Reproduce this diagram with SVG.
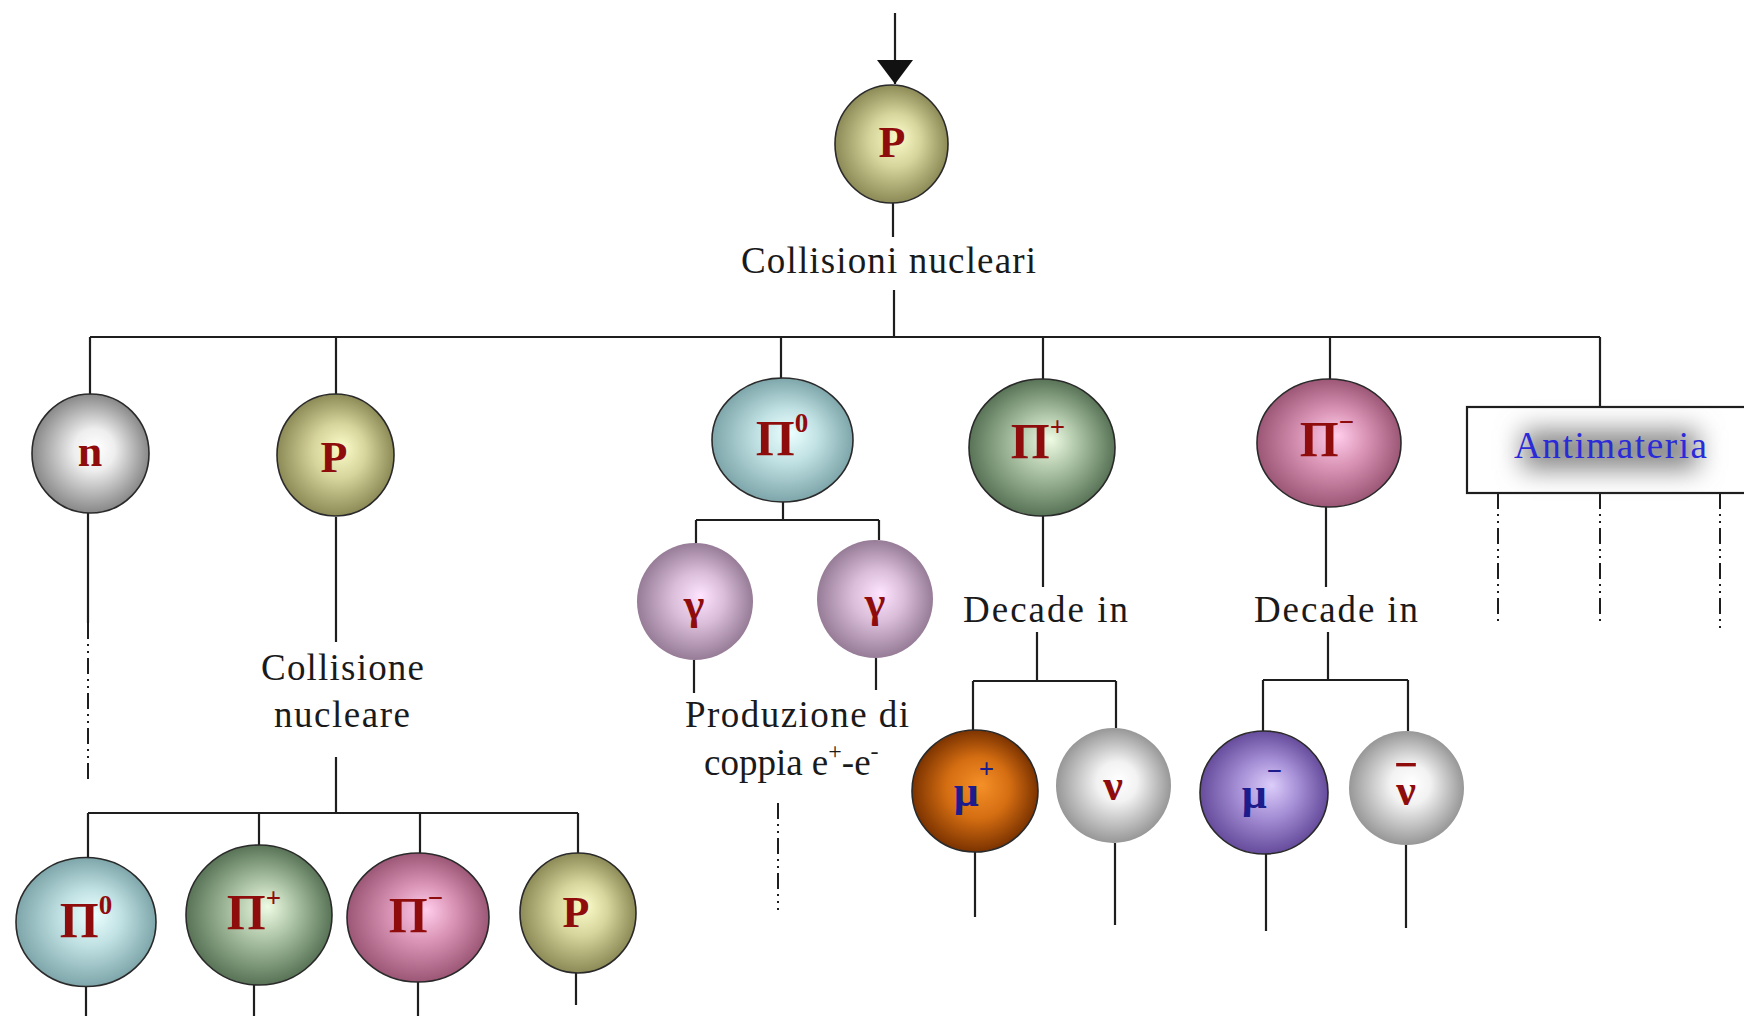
<svg xmlns="http://www.w3.org/2000/svg" width="1744" height="1016" viewBox="0 0 1744 1016">
<defs>
<style>
.ln{fill:none;stroke:#1e1e1e;stroke-width:2.2}
.dd{fill:none;stroke:#1e1e1e;stroke-width:2;stroke-dasharray:16 5 2 5 2 5}
.ball{stroke:#2a2a2a;stroke-width:1.6}
.soft{stroke:none}
.lbl{font-family:"Liberation Serif","Times New Roman",serif;font-weight:bold;font-size:44px;fill:#8f0c0c;text-anchor:middle}
.pi{font-size:50px}
.blue{fill:#1c1c8c}
.sup{font-size:27px}
.txt{font-family:"Liberation Serif","Times New Roman",serif;font-size:37px;fill:#1a1a1a}
</style>
<marker id="arr" viewBox="0 0 24 36" refX="24" refY="18" markerWidth="24" markerHeight="36" markerUnits="userSpaceOnUse" orient="auto">
<path d="M0 0 L24 18 L0 36 Z" fill="#111"/>
</marker>
<radialGradient id="gOlive" cx="0.5" cy="0.5" r="0.5" fx="0.56" fy="0.44"><stop offset="0" stop-color="#fcfcca"/><stop offset="0.45" stop-color="#d6d59c"/><stop offset="1" stop-color="#8c8a56"/></radialGradient>
<radialGradient id="gGray" cx="0.5" cy="0.5" r="0.5" fx="0.55" fy="0.45"><stop offset="0" stop-color="#ffffff"/><stop offset="0.35" stop-color="#eeeeee"/><stop offset="1" stop-color="#888888"/></radialGradient>
<radialGradient id="gCyan" cx="0.5" cy="0.5" r="0.5" fx="0.56" fy="0.44"><stop offset="0" stop-color="#ecffff"/><stop offset="0.45" stop-color="#bfe0e2"/><stop offset="1" stop-color="#7ea6aa"/></radialGradient>
<radialGradient id="gGreen" cx="0.5" cy="0.5" r="0.5" fx="0.56" fy="0.44"><stop offset="0" stop-color="#eefbe4"/><stop offset="0.45" stop-color="#a9c1a2"/><stop offset="1" stop-color="#587356"/></radialGradient>
<radialGradient id="gPink" cx="0.5" cy="0.5" r="0.5" fx="0.56" fy="0.44"><stop offset="0" stop-color="#ffcdeb"/><stop offset="0.45" stop-color="#da94b5"/><stop offset="1" stop-color="#9c5676"/></radialGradient>
<radialGradient id="gLav" cx="0.5" cy="0.5" r="0.5" fx="0.55" fy="0.45"><stop offset="0" stop-color="#ffe4ff"/><stop offset="0.45" stop-color="#d9bdd9"/><stop offset="1" stop-color="#977c97"/></radialGradient>
<radialGradient id="gOrange" cx="0.5" cy="0.5" r="0.5" fx="0.55" fy="0.45"><stop offset="0" stop-color="#f59028"/><stop offset="0.5" stop-color="#d56e12"/><stop offset="1" stop-color="#7c3300"/></radialGradient>
<radialGradient id="gPurple" cx="0.5" cy="0.5" r="0.5" fx="0.56" fy="0.44"><stop offset="0" stop-color="#dccdfa"/><stop offset="0.45" stop-color="#a892d8"/><stop offset="1" stop-color="#664c9c"/></radialGradient>
<radialGradient id="gNu" cx="0.5" cy="0.5" r="0.5" fx="0.55" fy="0.45"><stop offset="0" stop-color="#ffffff"/><stop offset="0.35" stop-color="#f2f2f2"/><stop offset="1" stop-color="#979797"/></radialGradient>
<filter id="glow" x="-30%" y="-80%" width="160%" height="260%"><feGaussianBlur stdDeviation="13"/></filter>
</defs>
<rect width="1744" height="1016" fill="#ffffff"/>

<g id="connectors">
<path class="ln" d="M895 13 V84" marker-end="url(#arr)"/>
<path class="ln" d="M893 203 V237 M894 290 V337 M90 337 H1600 M90 337 V394 M336 337 V394 M781 337 V378 M1043 337 V379 M1330 337 V379 M1600 337 V407"/>
<path class="ln" d="M88 513 V623"/>
<path class="dd" d="M88 623 V780"/>
<path class="ln" d="M336 517 V642 M336 757 V813 M88 813 H578 M88 813 V858 M259 813 V846 M420 813 V853 M578 813 V853"/>
<path class="ln" d="M86 987 V1016 M254 985 V1016 M418 982 V1016 M576 973 V1005"/>
<path class="ln" d="M783 502 V520 M696 520 H879 M696 520 V543 M879 520 V540 M694 660 V693 M876 658 V690"/>
<path class="dd" d="M778 803 V910"/>
<path class="ln" d="M1043 516 V587 M1037 632 V681 M973 681 H1116 M973 681 V730 M1116 681 V728 M975 852 V917 M1115 843 V925"/>
<path class="ln" d="M1326 507 V587 M1328 632 V680 M1263 680 H1408 M1263 680 V731 M1408 680 V731 M1266 854 V931 M1406 845 V928"/>
<path class="dd" d="M1498 493 V622 M1600 493 V622 M1720 493 V632"/>
</g>

<g id="label-collisioni">
<text class="txt" x="741" y="273" textLength="295">Collisioni nucleari</text>
</g>
<g id="label-collisione">
<text class="txt" x="261" y="680" textLength="163">Collisione</text>
<text class="txt" x="274" y="727" textLength="136">nucleare</text>
</g>
<g id="label-produzione">
<text class="txt" x="685" y="727" textLength="224">Produzione di</text>
<text class="txt" x="704" y="775">coppia e<tspan font-size="24" dy="-16">+</tspan><tspan dy="16">-e</tspan><tspan font-size="24" dy="-16">-</tspan></text>
</g>
<g id="label-decade1">
<text class="txt" x="963" y="622" textLength="165">Decade in</text>
</g>
<g id="label-decade2">
<text class="txt" x="1254" y="622" textLength="164">Decade in</text>
</g>

<g id="node-p-top">
<ellipse class="ball" cx="891.5" cy="144" rx="56.5" ry="59" fill="url(#gOlive)"/>
<text class="lbl" x="892" y="157">P</text>
</g>
<g id="node-n">
<ellipse class="ball" cx="90.5" cy="453.5" rx="58.5" ry="59.5" fill="url(#gGray)"/>
<text class="lbl" x="90" y="466">n</text>
</g>
<g id="node-p">
<ellipse class="ball" cx="335.5" cy="455" rx="58.5" ry="61" fill="url(#gOlive)"/>
<text class="lbl" x="334" y="472">P</text>
</g>
<g id="node-pi0">
<ellipse class="ball" cx="782.5" cy="440" rx="70.5" ry="62" fill="url(#gCyan)"/>
<text class="lbl pi" x="782" y="455">Π<tspan class="sup" dy="-23">0</tspan></text>
</g>
<g id="node-piplus">
<ellipse class="ball" cx="1042" cy="447.5" rx="73" ry="68.5" fill="url(#gGreen)"/>
<text class="lbl pi" x="1038" y="458">Π<tspan class="sup" dy="-22">+</tspan></text>
</g>
<g id="node-piminus">
<ellipse class="ball" cx="1329" cy="443" rx="72" ry="64" fill="url(#gPink)"/>
<text class="lbl pi" x="1327" y="456">Π<tspan class="sup" dy="-25">−</tspan></text>
</g>
<g id="node-antimateria">
<rect x="1467" y="407" width="290" height="86" fill="#ffffff" stroke="#1e1e1e" stroke-width="2.2"/>
<rect x="1522" y="430" width="176" height="40" fill="#8a8a8a" filter="url(#glow)"/>
<text x="1514" y="458" textLength="193" font-family="Liberation Serif, Times New Roman, serif" font-size="37" fill="#2a2ad8">Antimateria</text>
</g>
<g id="node-gamma1">
<ellipse class="soft" cx="695" cy="601.5" rx="58" ry="58.5" fill="url(#gLav)"/>
<text class="lbl" x="694" y="619" font-size="48">γ</text>
</g>
<g id="node-gamma2">
<ellipse class="soft" cx="875" cy="599" rx="58" ry="59" fill="url(#gLav)"/>
<text class="lbl" x="875" y="617" font-size="48">γ</text>
</g>
<g id="node-muplus">
<ellipse class="ball" cx="975" cy="791" rx="63" ry="61" fill="url(#gOrange)"/>
<text class="lbl blue" x="974" y="806">μ<tspan class="sup" dy="-28">+</tspan></text>
</g>
<g id="node-nu">
<ellipse class="soft" cx="1113.5" cy="785.5" rx="57.5" ry="57.5" fill="url(#gNu)"/>
<text class="lbl" x="1113" y="800">ν</text>
</g>
<g id="node-muminus">
<ellipse class="ball" cx="1264" cy="792.5" rx="64" ry="61.5" fill="url(#gPurple)"/>
<text class="lbl blue" x="1262" y="808">μ<tspan class="sup" dy="-28">−</tspan></text>
</g>
<g id="node-nubar">
<ellipse class="soft" cx="1406.5" cy="788" rx="57.5" ry="57" fill="url(#gNu)"/>
<text class="lbl" x="1406" y="805" text-decoration="overline">ν</text>
</g>
<g id="node-pi0-b">
<ellipse class="ball" cx="86" cy="922" rx="70" ry="64.5" fill="url(#gCyan)"/>
<text class="lbl pi" x="86" y="937">Π<tspan class="sup" dy="-23">0</tspan></text>
</g>
<g id="node-piplus-b">
<ellipse class="ball" cx="259" cy="915" rx="73" ry="70" fill="url(#gGreen)"/>
<text class="lbl pi" x="254" y="929">Π<tspan class="sup" dy="-22">+</tspan></text>
</g>
<g id="node-piminus-b">
<ellipse class="ball" cx="418" cy="917.5" rx="71" ry="64.5" fill="url(#gPink)"/>
<text class="lbl pi" x="416" y="932">Π<tspan class="sup" dy="-25">−</tspan></text>
</g>
<g id="node-p-b">
<ellipse class="ball" cx="578" cy="913" rx="58" ry="60" fill="url(#gOlive)"/>
<text class="lbl" x="576" y="927">P</text>
</g>
</svg>
